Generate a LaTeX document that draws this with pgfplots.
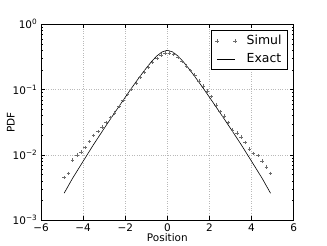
\documentclass[border=0pt]{standalone}
\usepackage{pgfplots}
\pgfplotsset{compat=1.18}
\usepackage{fontspec}
\setmainfont{DejaVu Sans}
\pgfplotsset{
  twomarks legend/.style={legend image code/.code={\draw[##1,only marks] plot coordinates {(0bp,0bp) (18bp,0bp)};}},
  longline legend/.style={legend image code/.code={\draw[##1] (0bp,0bp) -- (18bp,0bp);}},
}
\begin{document}
\fontsize{10.5}{12}\selectfont
\begin{tikzpicture}
\path[use as bounding box] (-41bp,-25bp) rectangle (286bp,220.3bp);
\begin{axis}[at={(0,0)},anchor=south west,
  scale only axis, width=252.7bp, height=196bp,
  xmin=-6, xmax=6, ymode=log, ymin=1e-3, ymax=1,
  xtick={-6,-4,-2,0,2,4,6},
  xticklabels={−6,−4,−2,0,2,4,6},
  ytick={0.001,0.01,0.1,1},
  yticklabels={10\textsuperscript{−3},10\textsuperscript{−2},10\textsuperscript{−1},10\textsuperscript{0}},
  grid=major, major grid style={dotted, gray!55, line width=0.45pt},
  axis line style={line width=0.6pt},
  major tick length=4bp, minor tick length=2bp,
  every tick/.style={black, line width=0.5pt},
  xlabel={Position}, ylabel={PDF},
  every axis x label/.style={at={(axis description cs:0.5,-0.087)},anchor=center},
  every axis y label/.style={at={(axis description cs:-0.119,0.5)},rotate=90,anchor=center},
  legend style={at={(0.977,0.971)}, anchor=north east, draw=black, line width=0.6pt,
    font=\fontsize{12.5}{13}\selectfont, cells={anchor=west}, inner xsep=4bp, inner ysep=3bp,
    row sep=3.5bp, /tikz/every odd column/.append style={column sep=8bp}},
  legend cell align=left,
]
\addplot[only marks, mark=+, mark size=1.8pt, gray!85!black, line width=0.45pt, twomarks legend]
coordinates {
(-4.9,0.0045) (-4.7,0.0052) (-4.5,0.0083) (-4.3,0.0100) (-4.1,0.0110)
(-3.9,0.0131) (-3.7,0.0160) (-3.5,0.0200) (-3.3,0.0228) (-3.1,0.0268)
(-2.9,0.0316) (-2.7,0.0373) (-2.5,0.0440) (-2.3,0.0550) (-2.1,0.0680)
(-1.9,0.0840) (-1.7,0.1010) (-1.5,0.1250) (-1.3,0.1550) (-1.1,0.1860)
(-0.9,0.2200) (-0.7,0.2590) (-0.5,0.3000) (-0.3,0.3400) (-0.1,0.3640)
(0.1,0.3640) (0.3,0.3500) (0.5,0.3100) (0.7,0.2700) (0.9,0.2300)
(1.1,0.1950) (1.3,0.1660) (1.5,0.1360) (1.7,0.1130) (1.9,0.0950)
(2.1,0.0780) (2.3,0.0580) (2.5,0.0460) (2.7,0.0395) (2.9,0.0316)
(3.1,0.0240) (3.3,0.0217) (3.5,0.0189) (3.7,0.0155) (3.9,0.0124)
(4.1,0.0106) (4.3,0.0098) (4.5,0.0081) (4.7,0.0066) (4.9,0.0052)
};
\addlegendentry{Simul}
\addplot[black, line width=0.6pt, longline legend]
coordinates {
(-4.9,0.0026) (-4.5,0.0044) (-4.0,0.0080) (-3.5,0.0145) (-3.0,0.0255)
(-2.5,0.0444) (-2.0,0.0765) (-1.75,0.100) (-1.5,0.130) (-1.25,0.1675)
(-1.0,0.214) (-0.75,0.269) (-0.5,0.328) (-0.25,0.378) (0,0.400)
(0.25,0.378) (0.5,0.328) (0.75,0.269) (1.0,0.214) (1.25,0.1675)
(1.5,0.130) (1.75,0.100) (2.0,0.0765) (2.5,0.0444) (3.0,0.0255)
(3.5,0.0145) (4.0,0.0080) (4.5,0.0044) (4.9,0.0026)
};
\addlegendentry{Exact}
\end{axis}
\end{tikzpicture}
\end{document}
